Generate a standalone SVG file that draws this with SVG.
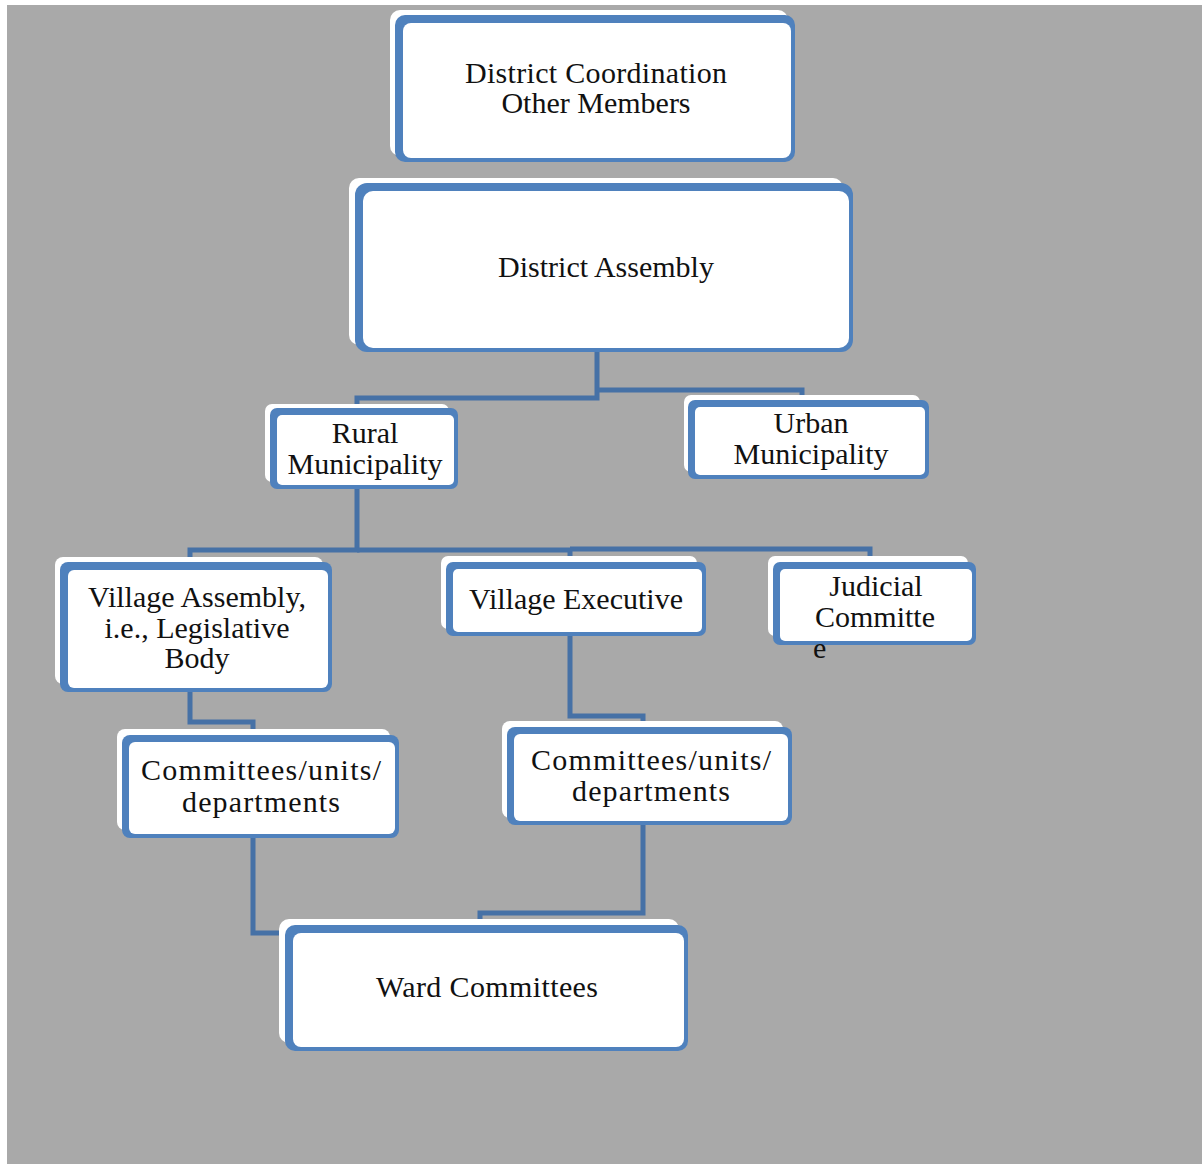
<svg xmlns="http://www.w3.org/2000/svg" width="1202" height="1164" viewBox="0 0 1202 1164">
<style>
.sh{fill:#ffffff}
.bl{fill:#4f81bd}
.in{fill:#ffffff}
.t{font-family:"Liberation Serif","DejaVu Serif",serif;font-size:30px;fill:#111111;text-anchor:middle}
.c{fill:none;stroke:#4671a6;stroke-width:5;stroke-linejoin:miter}
</style>
<rect x="0" y="0" width="1202" height="1164" fill="#ffffff"/>
<rect x="7" y="5" width="1195" height="1159" fill="#a9a9a9"/>
<g id="connectors">
<path class="c" d="M597,350 V398 H357 V408"/>
<path class="c" d="M597,390 H802 V400"/>
<path class="c" d="M357,486 V550 H190 V562"/>
<path class="c" d="M357,550 H570 V562"/>
<path class="c" d="M570,549 H870 V560"/>
<path class="c" d="M190,690 V722 H253 V735"/>
<path class="c" d="M570,634 V716 H643 V727"/>
<path class="c" d="M253,836 V933 H287"/>
<path class="c" d="M643,823 V913 H480 V925"/>
</g>
<g id="n1">
<rect class="sh" x="390" y="10" width="398" height="146" rx="10"/>
<rect class="bl" x="395" y="15" width="400" height="147" rx="10"/>
<rect class="in" x="403" y="23" width="388" height="135" rx="8"/>
<text class="t" x="596" y="83" textLength="262" lengthAdjust="spacing">District Coordination</text>
<text class="t" x="596" y="113">Other Members</text>
</g>
<g id="n2">
<rect class="sh" x="349" y="178" width="494" height="167" rx="10"/>
<rect class="bl" x="355" y="183" width="498" height="169" rx="12"/>
<rect class="in" x="363" y="191" width="486" height="157" rx="10"/>
<text class="t" x="606" y="277">District Assembly</text>
</g>
<g id="n3">
<rect class="sh" x="265" y="404" width="184" height="78" rx="7"/>
<rect class="bl" x="270" y="408" width="188" height="81" rx="7"/>
<rect class="in" x="277" y="415" width="177" height="70" rx="5"/>
<text class="t" x="365" y="443">Rural</text>
<text class="t" x="365" y="474">Municipality</text>
</g>
<g id="n4">
<rect class="sh" x="684" y="395" width="236" height="77" rx="7"/>
<rect class="bl" x="688" y="400" width="241" height="79" rx="7"/>
<rect class="in" x="695" y="407" width="230" height="68" rx="5"/>
<text class="t" x="811" y="433">Urban</text>
<text class="t" x="811" y="464">Municipality</text>
</g>
<g id="n5">
<rect class="sh" x="55" y="557" width="268" height="127" rx="8"/>
<rect class="bl" x="60" y="562" width="272" height="130" rx="8"/>
<rect class="in" x="68" y="570" width="260" height="118" rx="6"/>
<text class="t" x="197" y="607">Village Assembly,</text>
<text class="t" x="197" y="638">i.e., Legislative</text>
<text class="t" x="197" y="668">Body</text>
</g>
<g id="n6">
<rect class="sh" x="441" y="556" width="256" height="73" rx="7"/>
<rect class="bl" x="446" y="562" width="260" height="74" rx="7"/>
<rect class="in" x="453" y="569" width="249" height="63" rx="5"/>
<text class="t" x="576" y="609">Village Executive</text>
</g>
<g id="n7">
<rect class="sh" x="768" y="556" width="200" height="80" rx="7"/>
<rect class="bl" x="773" y="562" width="203" height="83" rx="7"/>
<rect class="in" x="780" y="569" width="192" height="72" rx="5"/>
<text class="t" x="876" y="596">Judicial</text>
<text class="t" x="875" y="627">Committe</text>
<text class="t" x="813" y="658" style="text-anchor:start">e</text>
</g>
<g id="n8">
<rect class="sh" x="117" y="729" width="273" height="101" rx="8"/>
<rect class="bl" x="122" y="735" width="277" height="103" rx="8"/>
<rect class="in" x="129" y="742" width="266" height="92" rx="6"/>
<text class="t" x="261" y="780" textLength="240" lengthAdjust="spacing">Committees/units/</text>
<text class="t" x="261" y="812" textLength="158" lengthAdjust="spacing">departments</text>
</g>
<g id="n9">
<rect class="sh" x="502" y="721" width="281" height="97" rx="8"/>
<rect class="bl" x="507" y="727" width="285" height="98" rx="8"/>
<rect class="in" x="514" y="734" width="274" height="87" rx="6"/>
<text class="t" x="651" y="770" textLength="240" lengthAdjust="spacing">Committees/units/</text>
<text class="t" x="651" y="801" textLength="158" lengthAdjust="spacing">departments</text>
</g>
<g id="n10">
<rect class="sh" x="279" y="919" width="400" height="124" rx="10"/>
<rect class="bl" x="285" y="925" width="403" height="126" rx="10"/>
<rect class="in" x="293" y="933" width="391" height="114" rx="8"/>
<text class="t" x="487" y="997" textLength="222" lengthAdjust="spacing">Ward Committees</text>
</g>
</svg>
